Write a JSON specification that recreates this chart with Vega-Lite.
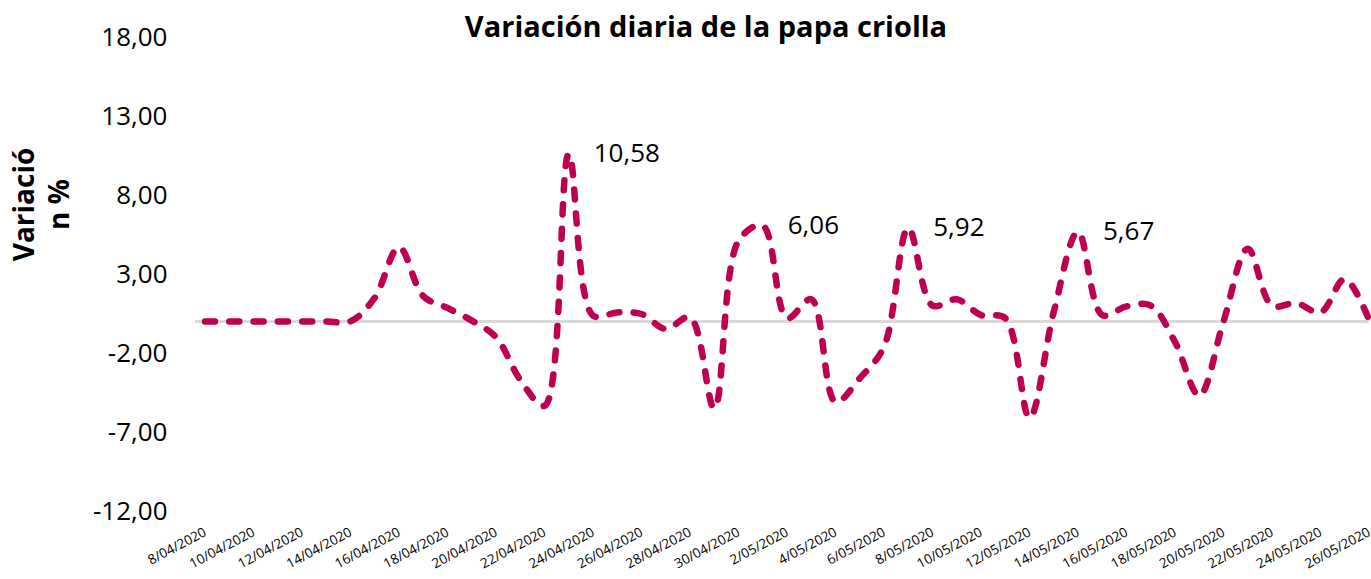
{
  "$schema": "https://vega.github.io/schema/vega-lite/v6.json",
  "autosize": {"type": "none"},
  "padding": {"left": 195, "top": 37, "right": 2, "bottom": 68},
  "width": 1174,
  "height": 474,
  "background": "white",
  "title": {
    "text": "Variación diaria de la papa criolla",
    "font": "Open Sans",
    "fontSize": 29,
    "fontWeight": "bold",
    "color": "#000000",
    "anchor": "middle",
    "frame": "group",
    "dx": -76,
    "dy": 23
  },
  "config": {
    "view": {"stroke": null},
    "locale": {
      "number": {"decimal": ",", "thousands": ".", "grouping": [3], "currency": ["$", ""], "minus": "-"}
    }
  },
  "data": {
    "values": [
      {"fecha": "2020-04-08", "variacion": 0},
      {"fecha": "2020-04-09", "variacion": 0},
      {"fecha": "2020-04-10", "variacion": 0},
      {"fecha": "2020-04-11", "variacion": 0},
      {"fecha": "2020-04-12", "variacion": 0},
      {"fecha": "2020-04-13", "variacion": 0},
      {"fecha": "2020-04-14", "variacion": 0},
      {"fecha": "2020-04-15", "variacion": 1.5},
      {"fecha": "2020-04-16", "variacion": 4.7},
      {"fecha": "2020-04-17", "variacion": 1.6},
      {"fecha": "2020-04-18", "variacion": 0.85},
      {"fecha": "2020-04-19", "variacion": 0.05},
      {"fecha": "2020-04-20", "variacion": -1.0},
      {"fecha": "2020-04-21", "variacion": -3.7},
      {"fecha": "2020-04-22", "variacion": -5.35},
      {"fecha": "2020-04-23", "variacion": 10.58},
      {"fecha": "2020-04-24", "variacion": 0.37},
      {"fecha": "2020-04-25", "variacion": 0.57},
      {"fecha": "2020-04-26", "variacion": 0.47},
      {"fecha": "2020-04-27", "variacion": -0.48},
      {"fecha": "2020-04-28", "variacion": 0.26},
      {"fecha": "2020-04-29", "variacion": -5.5},
      {"fecha": "2020-04-30", "variacion": 5.1},
      {"fecha": "2020-05-01", "variacion": 6.06},
      {"fecha": "2020-05-02", "variacion": 0.2},
      {"fecha": "2020-05-03", "variacion": 1.4},
      {"fecha": "2020-05-04", "variacion": -5.1},
      {"fecha": "2020-05-05", "variacion": -3.6},
      {"fecha": "2020-05-06", "variacion": -1.6},
      {"fecha": "2020-05-07", "variacion": 5.92},
      {"fecha": "2020-05-08", "variacion": 1.0},
      {"fecha": "2020-05-09", "variacion": 1.4},
      {"fecha": "2020-05-10", "variacion": 0.4},
      {"fecha": "2020-05-11", "variacion": 0.2},
      {"fecha": "2020-05-12", "variacion": -6.1},
      {"fecha": "2020-05-13", "variacion": 0.6},
      {"fecha": "2020-05-14", "variacion": 5.67},
      {"fecha": "2020-05-15", "variacion": 0.4},
      {"fecha": "2020-05-16", "variacion": 0.95},
      {"fecha": "2020-05-17", "variacion": 1.0},
      {"fecha": "2020-05-18", "variacion": -1.3},
      {"fecha": "2020-05-19", "variacion": -4.7},
      {"fecha": "2020-05-20", "variacion": 0.0},
      {"fecha": "2020-05-21", "variacion": 4.6},
      {"fecha": "2020-05-22", "variacion": 1.0},
      {"fecha": "2020-05-23", "variacion": 1.16},
      {"fecha": "2020-05-24", "variacion": 0.57},
      {"fecha": "2020-05-25", "variacion": 2.68},
      {"fecha": "2020-05-26", "variacion": 0.1}
    ]
  },
  "encoding": {
    "x": {
      "field": "fecha",
      "type": "temporal",
      "scale": {
        "type": "utc",
        "domain": [
          {"year": 2020, "month": 4, "date": 7, "hours": 14, "minutes": 6, "utc": true},
          {"year": 2020, "month": 5, "date": 26, "utc": true}
        ]
      },
      "axis": {
        "title": null,
        "labelExpr": "utcFormat(datum.value, '%-d/%m/%Y')",
        "values": [
          {"year": 2020, "month": 4, "date": 8, "utc": true},
          {"year": 2020, "month": 4, "date": 10, "utc": true},
          {"year": 2020, "month": 4, "date": 12, "utc": true},
          {"year": 2020, "month": 4, "date": 14, "utc": true},
          {"year": 2020, "month": 4, "date": 16, "utc": true},
          {"year": 2020, "month": 4, "date": 18, "utc": true},
          {"year": 2020, "month": 4, "date": 20, "utc": true},
          {"year": 2020, "month": 4, "date": 22, "utc": true},
          {"year": 2020, "month": 4, "date": 24, "utc": true},
          {"year": 2020, "month": 4, "date": 26, "utc": true},
          {"year": 2020, "month": 4, "date": 28, "utc": true},
          {"year": 2020, "month": 4, "date": 30, "utc": true},
          {"year": 2020, "month": 5, "date": 2, "utc": true},
          {"year": 2020, "month": 5, "date": 4, "utc": true},
          {"year": 2020, "month": 5, "date": 6, "utc": true},
          {"year": 2020, "month": 5, "date": 8, "utc": true},
          {"year": 2020, "month": 5, "date": 10, "utc": true},
          {"year": 2020, "month": 5, "date": 12, "utc": true},
          {"year": 2020, "month": 5, "date": 14, "utc": true},
          {"year": 2020, "month": 5, "date": 16, "utc": true},
          {"year": 2020, "month": 5, "date": 18, "utc": true},
          {"year": 2020, "month": 5, "date": 20, "utc": true},
          {"year": 2020, "month": 5, "date": 22, "utc": true},
          {"year": 2020, "month": 5, "date": 24, "utc": true},
          {"year": 2020, "month": 5, "date": 26, "utc": true}
        ],
        "labelAngle": -28,
        "labelAlign": "right",
        "labelBaseline": "middle",
        "labelPadding": 20,
        "labelDx": -3,
        "labelFont": "Open Sans",
        "labelFontSize": 13.5,
        "labelColor": "#000000",
        "labelOverlap": false,
        "labelBound": false,
        "labelFlush": false,
        "ticks": false,
        "domain": false,
        "grid": false
      }
    },
    "y": {
      "field": "variacion",
      "type": "quantitative",
      "scale": {"domain": [-12, 18], "nice": false, "zero": false},
      "axis": {
        "values": [-12, -7, -2, 3, 8, 13, 18],
        "format": ".2f",
        "labelFont": "Open Sans",
        "labelFontSize": 26,
        "labelColor": "#000000",
        "labelPadding": 28,
        "labelFlush": false,
        "labelBound": false,
        "ticks": false,
        "domain": false,
        "grid": false,
        "title": ["Variació", "n %"],
        "titleFont": "Open Sans",
        "titleFontSize": 28,
        "titleFontWeight": "bold",
        "titleColor": "#000000",
        "titleAngle": 270,
        "titleAlign": "center",
        "titleBaseline": "alphabetic",
        "titleLineHeight": 35,
        "titleX": -162,
        "titleY": 167
      }
    }
  },
  "layer": [
    {
      "mark": {"type": "rule", "color": "#D9D9D9", "strokeWidth": 2.5},
      "encoding": {"y": {"datum": 0}, "x": null}
    },
    {
      "mark": {
        "type": "line",
        "interpolate": "catmull-rom",
        "strokeDash": [10, 14.3],
        "strokeCap": "round",
        "strokeWidth": 6.5,
        "color": "#BE0050"
      }
    },
    {
      "transform": [{"filter": "datum.variacion >= 5.6"}],
      "mark": {
        "type": "text",
        "align": "left",
        "baseline": "middle",
        "dx": 25,
        "font": "Open Sans",
        "fontSize": 26,
        "color": "#000000"
      },
      "encoding": {
        "text": {"field": "variacion", "type": "quantitative", "format": ".2f"}
      }
    }
  ]
}
